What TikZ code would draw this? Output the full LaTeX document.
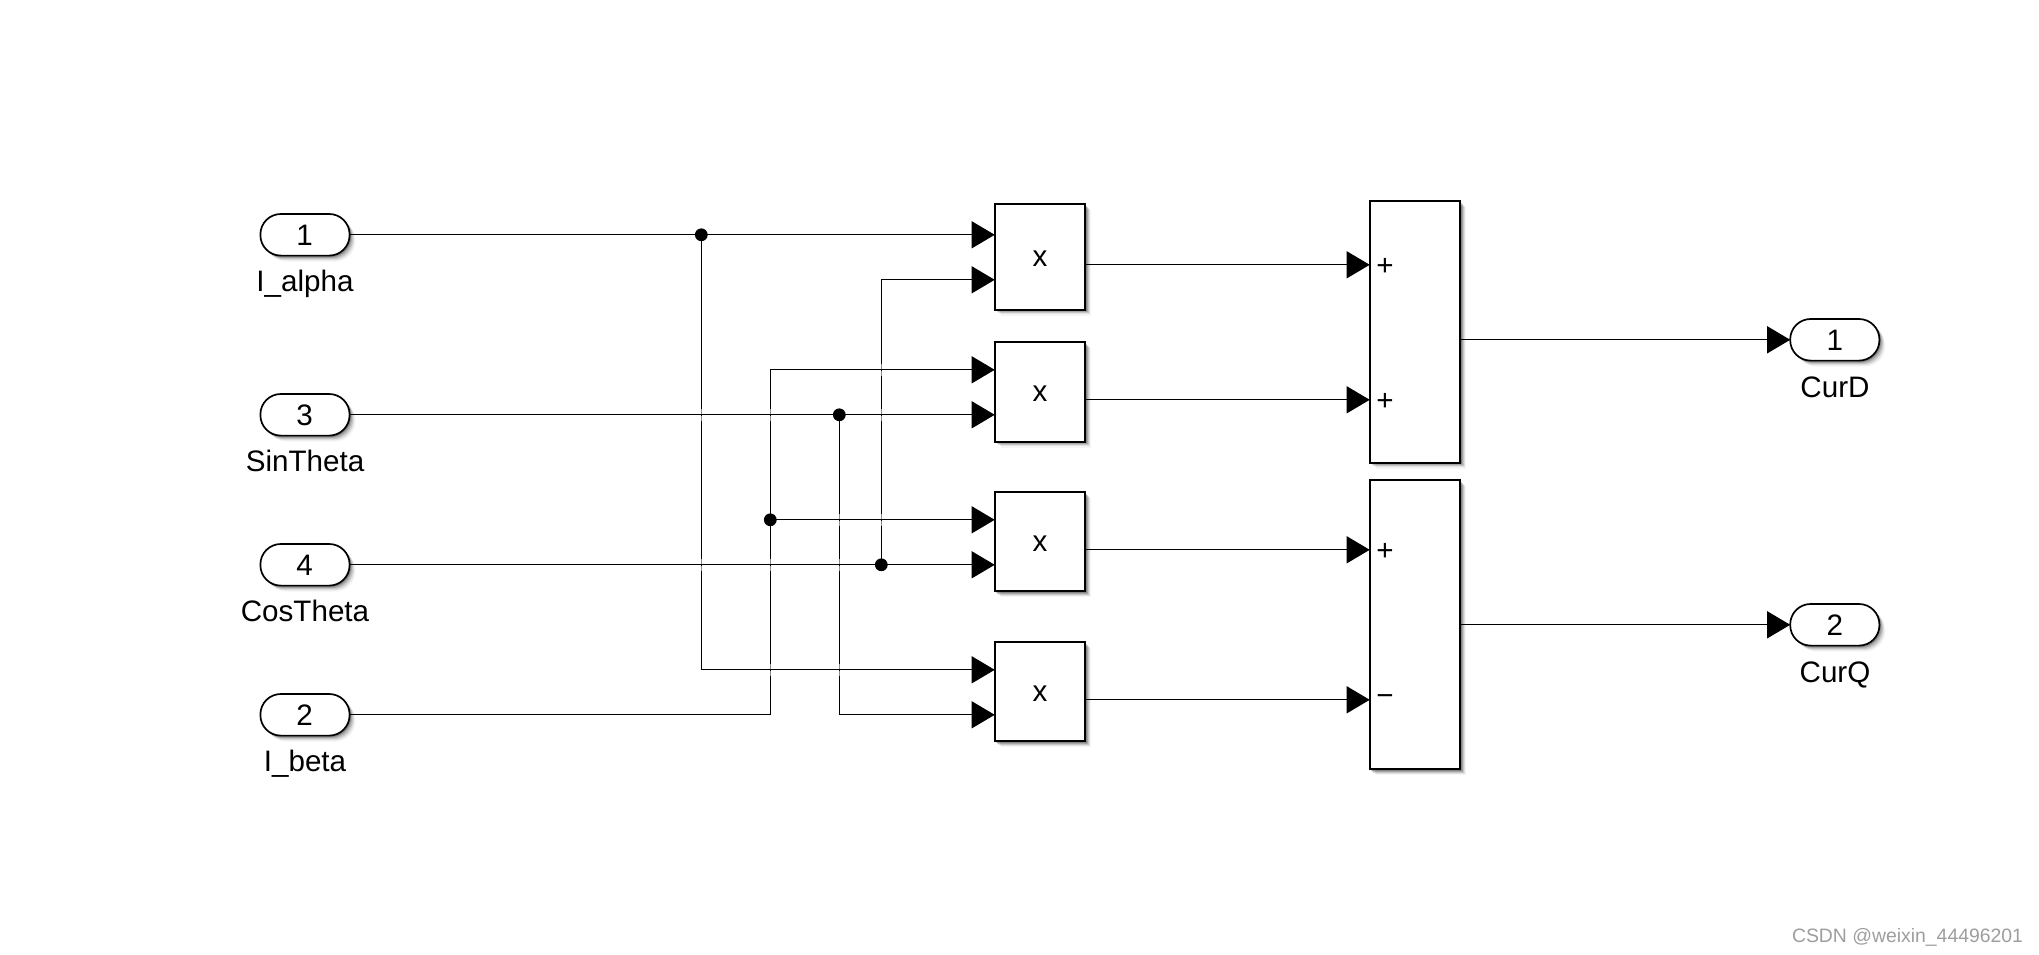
\documentclass[tikz,border=0pt]{standalone}
\usepackage{fontspec}
\setmainfont{Liberation Sans}
\usetikzlibrary{arrows.meta,shadows,calc}
\newcommand{\pxfont}{\fontsize{14.8pt}{17pt}\selectfont}
\tikzset{
  softshadow/.style={
    general shadow={shadow xshift=3pt,shadow yshift=-3pt,fill=black,fill opacity=.04},
    general shadow={shadow xshift=2.4pt,shadow yshift=-2.4pt,fill=black,fill opacity=.08},
    general shadow={shadow xshift=1.8pt,shadow yshift=-1.8pt,fill=black,fill opacity=.12},
    general shadow={shadow xshift=1.2pt,shadow yshift=-1.2pt,fill=black,fill opacity=.16},
    general shadow={shadow xshift=.7pt,shadow yshift=-.7pt,fill=black,fill opacity=.2}},
  blockbox/.style={draw=black,line width=1pt,fill=white,inner sep=0pt,outer sep=0pt,minimum width=45.3pt,softshadow},
  portbox/.style={draw=black,line width=.85pt,fill=white,inner sep=0pt,outer sep=0pt,minimum width=44.6pt,minimum height=20.8pt,rounded corners=10.2pt,softshadow},
  txt/.style={inner sep=0pt,outer sep=0pt,anchor=base,font=\pxfont,text=black},
  sign/.style={inner sep=0pt,outer sep=0pt,font=\pxfont,text=black},
  wire/.style={line width=.55pt,draw=black},
  sig/.style={wire,-{Triangle[length=11.5pt,width=13.5pt]}},
  dotj/.style={circle,fill=black,inner sep=0pt,outer sep=0pt,minimum size=6.4pt},
  fade/.style={fill=white,fill opacity=.55,draw=none}
}
\begin{document}
\begin{tikzpicture}[x=.5pt,y=-.5pt]
\useasboundingbox (0,0) rectangle (2039,954);
\fill[white] (0,0) rectangle (2039,954);
\begin{scope}[yshift=-.25pt]

% blocks
\node[blockbox,minimum height=52.65pt] (m1) at (1040,256.35) {};
\node[blockbox,minimum height=49.65pt] (m2) at (1040,391.35) {};
\node[blockbox,minimum height=49.5pt] (m3) at (1040,541.2) {};
\node[blockbox,minimum height=49.5pt] (m4) at (1040,691.2) {};
\node[blockbox,minimum height=130.65pt] (s1) at (1415,331.35) {};
\node[blockbox,minimum height=144.4pt] (s2) at (1415,624.3) {};

% ports
\node[portbox] (in1) at (305,234.3) {};
\node[portbox] (in3) at (305,414.3) {};
\node[portbox] (in4) at (305,564.3) {};
\node[portbox] (in2) at (305,714.3) {};
\node[portbox] (out1) at (1834.8,339.3) {};
\node[portbox] (out2) at (1834.8,624.3) {};

% port numbers
\node[txt] (n1) at (304.5,245) {1};
\node[txt] (n3) at (304.5,425) {3};
\node[txt] (n4) at (304.5,575) {4};
\node[txt] (n2) at (304.5,725) {2};
\node[txt] (n5) at (1834.8,350) {1};
\node[txt] (n6) at (1834.8,635) {2};

% port labels
\node[txt] (l1) at (305,291) {I\_alpha};
\node[txt] (l3) at (305,471) {SinTheta};
\node[txt] (l4) at (305,621) {CosTheta};
\node[txt] (l2) at (305,771) {I\_beta};
\node[txt] (l5) at (1835,396.5) {CurD};
\node[txt] (l6) at (1835,681.5) {CurQ};

% block symbols
\node[txt] (x1) at (1040,266) {x};
\node[txt] (x2) at (1040,401) {x};
\node[txt] (x3) at (1040,551) {x};
\node[txt] (x4) at (1040,701) {x};
\node[sign] (p1) at (1385,266.8) {+};
\node[sign] (p2) at (1385,401.8) {+};
\node[sign] (p3) at (1385,551.8) {+};
\node[sign] (p4) at (1385,699.3) {\raisebox{-3.5pt}{−}};

% ports on blocks
\coordinate (m1a) at (994.7,234.3);
\coordinate (m1b) at (994.7,279.3);
\coordinate (m2a) at (994.7,369.3);
\coordinate (m2b) at (994.7,414.3);
\coordinate (m3a) at (994.7,519.3);
\coordinate (m3b) at (994.7,564.3);
\coordinate (m4a) at (994.7,669.3);
\coordinate (m4b) at (994.7,714.3);
\coordinate (s1a) at (1369.7,264.3);
\coordinate (s1b) at (1369.7,399.3);
\coordinate (s2a) at (1369.7,549.3);
\coordinate (s2b) at (1369.7,699.3);

% junctions
\coordinate (j1) at (701.3,234.3);
\coordinate (j3) at (839.3,414.3);
\coordinate (j2) at (770.3,519.3);
\coordinate (j4) at (881.3,564.3);

% connectors
\draw[sig] (in1.east) -- (m1a);
\draw[sig] (j1) |- (m4a);
\draw[sig] (in3.east) -- (m2b);
\draw[sig] (j3) |- (m4b);
\draw[sig] (in4.east) -- (m3b);
\draw[sig] (j4) |- (m1b);
\draw[sig] (in2.east) -| (j2) |- (m2a);
\draw[sig] (j2) -- (m3a);
\draw[sig] (m1.east |- s1a) -- (s1a);
\draw[sig] (m2.east |- s1b) -- (s1b);
\draw[sig] (m3.east |- s2a) -- (s2a);
\draw[sig] (m4.east |- s2b) -- (s2b);
\draw[sig] (s1.east |- out1) -- (out1.west);
\draw[sig] (s2.east |- out2) -- (out2.west);

% lightened vertical line either side of each crossing
\foreach \cx/\cy in {701.3/414.3,701.3/564.3,770.3/414.3,770.3/564.3,770.3/669.3,
  839.3/519.3,839.3/564.3,839.3/669.3,881.3/369.3,881.3/414.3,881.3/519.3}{
  \fill[fade] (\cx-1.5,\cy-6) rectangle (\cx+1.5,\cy-1);
  \fill[fade] (\cx-1.5,\cy+1) rectangle (\cx+1.5,\cy+6);
}

% junction dots
\node[dotj] (d1) at (j1) {};
\node[dotj] (d3) at (j3) {};
\node[dotj] (d2) at (j2) {};
\node[dotj] (d4) at (j4) {};

% watermark
\node[inner sep=0pt,outer sep=0pt,anchor=base west,font=\fontsize{9.7pt}{11pt}\selectfont,text={rgb:black,38;white,62}] (wm) at (1792,941.7) {CSDN @weixin\_44496201};
\end{scope}
\end{tikzpicture}
\end{document}
